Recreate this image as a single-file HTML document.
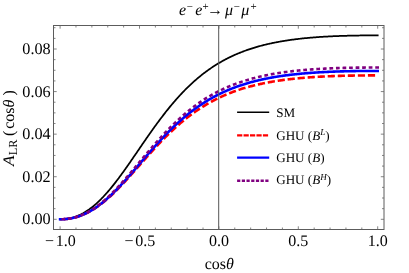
<!DOCTYPE html><html><head><meta charset="utf-8"><style>
html,body{margin:0;padding:0;background:#fff;}
svg{display:block;font-family:"Liberation Serif",serif;} text{filter:grayscale(1);text-rendering:geometricPrecision}
</style></head><body>
<svg width="409" height="273" viewBox="0 0 409 273">
<rect width="409" height="273" fill="#fff"/>
<g fill="none" stroke-linecap="butt" stroke-linejoin="round">
<path d="M377.70,35.38 L376.91,35.38 L376.11,35.38 L375.32,35.38 L374.52,35.38 L373.73,35.38 L372.94,35.38 L372.14,35.39 L371.35,35.39 L370.55,35.39 L369.76,35.40 L368.97,35.40 L368.17,35.41 L367.38,35.41 L366.58,35.42 L365.79,35.43 L365.00,35.43 L364.20,35.44 L363.41,35.45 L362.61,35.46 L361.82,35.47 L361.03,35.48 L360.23,35.49 L359.44,35.50 L358.64,35.51 L357.85,35.52 L357.06,35.53 L356.26,35.55 L355.47,35.56 L354.67,35.58 L353.88,35.59 L353.09,35.61 L352.29,35.62 L351.50,35.64 L350.70,35.66 L349.91,35.68 L349.12,35.69 L348.32,35.71 L347.53,35.74 L346.73,35.76 L345.94,35.78 L345.15,35.80 L344.35,35.82 L343.56,35.85 L342.76,35.87 L341.97,35.90 L341.18,35.93 L340.38,35.95 L339.59,35.98 L338.79,36.01 L338.00,36.04 L337.21,36.07 L336.41,36.10 L335.62,36.13 L334.82,36.17 L334.03,36.20 L333.24,36.24 L332.44,36.27 L331.65,36.31 L330.85,36.35 L330.06,36.39 L329.27,36.43 L328.47,36.47 L327.68,36.51 L326.88,36.55 L326.09,36.60 L325.30,36.64 L324.50,36.69 L323.71,36.74 L322.91,36.78 L322.12,36.83 L321.33,36.88 L320.53,36.94 L319.74,36.99 L318.94,37.04 L318.15,37.10 L317.36,37.15 L316.56,37.21 L315.77,37.27 L314.97,37.33 L314.18,37.39 L313.39,37.46 L312.59,37.52 L311.80,37.59 L311.00,37.65 L310.21,37.72 L309.42,37.79 L308.62,37.86 L307.83,37.94 L307.03,38.01 L306.24,38.09 L305.45,38.16 L304.65,38.24 L303.86,38.32 L303.06,38.41 L302.27,38.49 L301.48,38.57 L300.68,38.66 L299.89,38.75 L299.09,38.84 L298.30,38.93 L297.51,39.03 L296.71,39.12 L295.92,39.22 L295.12,39.32 L294.33,39.42 L293.54,39.52 L292.74,39.63 L291.95,39.74 L291.15,39.85 L290.36,39.96 L289.57,40.07 L288.77,40.18 L287.98,40.30 L287.18,40.42 L286.39,40.54 L285.60,40.67 L284.80,40.79 L284.01,40.92 L283.21,41.05 L282.42,41.18 L281.63,41.32 L280.83,41.46 L280.04,41.60 L279.24,41.74 L278.45,41.88 L277.66,42.03 L276.86,42.18 L276.07,42.33 L275.27,42.49 L274.48,42.65 L273.69,42.81 L272.89,42.97 L272.10,43.13 L271.30,43.30 L270.51,43.48 L269.72,43.65 L268.92,43.83 L268.13,44.01 L267.33,44.19 L266.54,44.38 L265.75,44.57 L264.95,44.76 L264.16,44.96 L263.36,45.16 L262.57,45.36 L261.78,45.56 L260.98,45.77 L260.19,45.99 L259.39,46.20 L258.60,46.42 L257.81,46.65 L257.01,46.87 L256.22,47.10 L255.42,47.34 L254.63,47.58 L253.84,47.82 L253.04,48.06 L252.25,48.31 L251.45,48.57 L250.66,48.82 L249.87,49.09 L249.07,49.35 L248.28,49.62 L247.48,49.90 L246.69,50.18 L245.90,50.46 L245.10,50.75 L244.31,51.04 L243.51,51.33 L242.72,51.63 L241.93,51.94 L241.13,52.25 L240.34,52.57 L239.54,52.89 L238.75,53.21 L237.96,53.54 L237.16,53.87 L236.37,54.21 L235.57,54.56 L234.78,54.91 L233.99,55.26 L233.19,55.63 L232.40,55.99 L231.60,56.36 L230.81,56.74 L230.02,57.12 L229.22,57.51 L228.43,57.90 L227.63,58.30 L226.84,58.71 L226.05,59.12 L225.25,59.54 L224.46,59.96 L223.66,60.39 L222.87,60.83 L222.08,61.27 L221.28,61.72 L220.49,62.17 L219.69,62.63 L218.90,63.10 L218.11,63.58 L217.31,64.06 L216.52,64.54 L215.72,65.04 L214.93,65.54 L214.14,66.05 L213.34,66.56 L212.55,67.08 L211.75,67.61 L210.96,68.15 L210.17,68.69 L209.37,69.25 L208.58,69.80 L207.78,70.37 L206.99,70.94 L206.20,71.52 L205.40,72.11 L204.61,72.71 L203.81,73.31 L203.02,73.92 L202.23,74.54 L201.43,75.17 L200.64,75.81 L199.84,76.45 L199.05,77.10 L198.26,77.76 L197.46,78.43 L196.67,79.10 L195.87,79.79 L195.08,80.48 L194.29,81.18 L193.49,81.89 L192.70,82.61 L191.90,83.33 L191.11,84.07 L190.32,84.81 L189.52,85.56 L188.73,86.32 L187.93,87.09 L187.14,87.87 L186.35,88.65 L185.55,89.45 L184.76,90.25 L183.96,91.06 L183.17,91.88 L182.38,92.71 L181.58,93.55 L180.79,94.40 L179.99,95.25 L179.20,96.11 L178.41,96.99 L177.61,97.87 L176.82,98.76 L176.02,99.65 L175.23,100.56 L174.44,101.47 L173.64,102.40 L172.85,103.33 L172.05,104.27 L171.26,105.22 L170.47,106.17 L169.67,107.14 L168.88,108.11 L168.08,109.09 L167.29,110.08 L166.50,111.07 L165.70,112.08 L164.91,113.09 L164.11,114.11 L163.32,115.13 L162.53,116.17 L161.73,117.21 L160.94,118.25 L160.14,119.31 L159.35,120.37 L158.56,121.44 L157.76,122.51 L156.97,123.59 L156.17,124.67 L155.38,125.77 L154.59,126.86 L153.79,127.97 L153.00,129.07 L152.20,130.19 L151.41,131.31 L150.62,132.43 L149.82,133.55 L149.03,134.69 L148.23,135.82 L147.44,136.96 L146.65,138.10 L145.85,139.25 L145.06,140.40 L144.26,141.55 L143.47,142.70 L142.68,143.85 L141.88,145.01 L141.09,146.17 L140.29,147.33 L139.50,148.49 L138.71,149.65 L137.91,150.82 L137.12,151.98 L136.32,153.14 L135.53,154.30 L134.74,155.46 L133.94,156.62 L133.15,157.77 L132.35,158.93 L131.56,160.08 L130.77,161.23 L129.97,162.38 L129.18,163.52 L128.38,164.66 L127.59,165.80 L126.80,166.93 L126.00,168.06 L125.21,169.18 L124.41,170.29 L123.62,171.40 L122.83,172.51 L122.03,173.60 L121.24,174.69 L120.44,175.78 L119.65,176.85 L118.86,177.92 L118.06,178.98 L117.27,180.03 L116.47,181.07 L115.68,182.10 L114.89,183.13 L114.09,184.14 L113.30,185.14 L112.50,186.14 L111.71,187.12 L110.92,188.09 L110.12,189.04 L109.33,189.99 L108.53,190.93 L107.74,191.85 L106.95,192.76 L106.15,193.65 L105.36,194.54 L104.56,195.41 L103.77,196.26 L102.98,197.11 L102.18,197.93 L101.39,198.75 L100.59,199.55 L99.80,200.33 L99.01,201.10 L98.21,201.86 L97.42,202.60 L96.62,203.32 L95.83,204.03 L95.04,204.73 L94.24,205.40 L93.45,206.06 L92.65,206.71 L91.86,207.34 L91.07,207.95 L90.27,208.55 L89.48,209.13 L88.68,209.69 L87.89,210.24 L87.10,210.77 L86.30,211.29 L85.51,211.79 L84.71,212.27 L83.92,212.73 L83.13,213.18 L82.33,213.61 L81.54,214.03 L80.74,214.42 L79.95,214.81 L79.16,215.17 L78.36,215.52 L77.57,215.86 L76.77,216.17 L75.98,216.47 L75.19,216.76 L74.39,217.03 L73.60,217.28 L72.80,217.52 L72.01,217.74 L71.22,217.95 L70.42,218.14 L69.63,218.31 L68.83,218.48 L68.04,218.62 L67.25,218.75 L66.45,218.87 L65.66,218.97 L64.86,219.06 L64.07,219.13 L63.28,219.19 L62.48,219.24 L61.69,219.27 L60.89,219.29 L60.10,219.30" stroke="#000" stroke-width="1.75" stroke-linecap="square"/>
<path d="M377.70,75.40 L376.91,75.40 L376.11,75.40 L375.32,75.40 L374.52,75.40 L373.73,75.40 L372.94,75.40 L372.14,75.40 L371.35,75.41 L370.55,75.41 L369.76,75.41 L368.97,75.42 L368.17,75.42 L367.38,75.43 L366.58,75.43 L365.79,75.44 L365.00,75.44 L364.20,75.45 L363.41,75.46 L362.61,75.46 L361.82,75.47 L361.03,75.48 L360.23,75.49 L359.44,75.50 L358.64,75.50 L357.85,75.51 L357.06,75.53 L356.26,75.54 L355.47,75.55 L354.67,75.56 L353.88,75.57 L353.09,75.58 L352.29,75.60 L351.50,75.61 L350.70,75.63 L349.91,75.64 L349.12,75.66 L348.32,75.67 L347.53,75.69 L346.73,75.71 L345.94,75.72 L345.15,75.74 L344.35,75.76 L343.56,75.78 L342.76,75.80 L341.97,75.82 L341.18,75.84 L340.38,75.87 L339.59,75.89 L338.79,75.91 L338.00,75.94 L337.21,75.96 L336.41,75.99 L335.62,76.01 L334.82,76.04 L334.03,76.07 L333.24,76.10 L332.44,76.13 L331.65,76.16 L330.85,76.19 L330.06,76.22 L329.27,76.25 L328.47,76.29 L327.68,76.32 L326.88,76.36 L326.09,76.39 L325.30,76.43 L324.50,76.47 L323.71,76.50 L322.91,76.54 L322.12,76.58 L321.33,76.63 L320.53,76.67 L319.74,76.71 L318.94,76.76 L318.15,76.80 L317.36,76.85 L316.56,76.89 L315.77,76.94 L314.97,76.99 L314.18,77.04 L313.39,77.09 L312.59,77.15 L311.80,77.20 L311.00,77.25 L310.21,77.31 L309.42,77.37 L308.62,77.42 L307.83,77.48 L307.03,77.54 L306.24,77.61 L305.45,77.67 L304.65,77.73 L303.86,77.80 L303.06,77.87 L302.27,77.93 L301.48,78.00 L300.68,78.07 L299.89,78.15 L299.09,78.22 L298.30,78.29 L297.51,78.37 L296.71,78.45 L295.92,78.53 L295.12,78.61 L294.33,78.69 L293.54,78.78 L292.74,78.86 L291.95,78.95 L291.15,79.04 L290.36,79.13 L289.57,79.22 L288.77,79.31 L287.98,79.41 L287.18,79.51 L286.39,79.60 L285.60,79.70 L284.80,79.81 L284.01,79.91 L283.21,80.02 L282.42,80.13 L281.63,80.24 L280.83,80.35 L280.04,80.46 L279.24,80.58 L278.45,80.69 L277.66,80.81 L276.86,80.94 L276.07,81.06 L275.27,81.19 L274.48,81.31 L273.69,81.44 L272.89,81.58 L272.10,81.71 L271.30,81.85 L270.51,81.99 L269.72,82.13 L268.92,82.28 L268.13,82.42 L267.33,82.57 L266.54,82.72 L265.75,82.88 L264.95,83.03 L264.16,83.19 L263.36,83.35 L262.57,83.52 L261.78,83.69 L260.98,83.86 L260.19,84.03 L259.39,84.20 L258.60,84.38 L257.81,84.56 L257.01,84.75 L256.22,84.93 L255.42,85.12 L254.63,85.32 L253.84,85.51 L253.04,85.71 L252.25,85.92 L251.45,86.12 L250.66,86.33 L249.87,86.54 L249.07,86.76 L248.28,86.98 L247.48,87.20 L246.69,87.42 L245.90,87.65 L245.10,87.89 L244.31,88.12 L243.51,88.36 L242.72,88.61 L241.93,88.85 L241.13,89.10 L240.34,89.36 L239.54,89.62 L238.75,89.88 L237.96,90.15 L237.16,90.42 L236.37,90.69 L235.57,90.97 L234.78,91.25 L233.99,91.54 L233.19,91.83 L232.40,92.13 L231.60,92.43 L230.81,92.73 L230.02,93.04 L229.22,93.36 L228.43,93.67 L227.63,94.00 L226.84,94.32 L226.05,94.65 L225.25,94.99 L224.46,95.33 L223.66,95.68 L222.87,96.03 L222.08,96.39 L221.28,96.75 L220.49,97.11 L219.69,97.49 L218.90,97.86 L218.11,98.24 L217.31,98.63 L216.52,99.02 L215.72,99.42 L214.93,99.82 L214.14,100.23 L213.34,100.65 L212.55,101.07 L211.75,101.49 L210.96,101.92 L210.17,102.36 L209.37,102.80 L208.58,103.25 L207.78,103.70 L206.99,104.16 L206.20,104.63 L205.40,105.10 L204.61,105.58 L203.81,106.06 L203.02,106.55 L202.23,107.05 L201.43,107.55 L200.64,108.06 L199.84,108.58 L199.05,109.10 L198.26,109.63 L197.46,110.16 L196.67,110.70 L195.87,111.25 L195.08,111.80 L194.29,112.36 L193.49,112.93 L192.70,113.50 L191.90,114.08 L191.11,114.66 L190.32,115.26 L189.52,115.85 L188.73,116.46 L187.93,117.07 L187.14,117.69 L186.35,118.32 L185.55,118.95 L184.76,119.59 L183.96,120.23 L183.17,120.89 L182.38,121.54 L181.58,122.21 L180.79,122.88 L179.99,123.56 L179.20,124.24 L178.41,124.94 L177.61,125.63 L176.82,126.34 L176.02,127.05 L175.23,127.77 L174.44,128.49 L173.64,129.22 L172.85,129.96 L172.05,130.70 L171.26,131.45 L170.47,132.21 L169.67,132.97 L168.88,133.73 L168.08,134.51 L167.29,135.29 L166.50,136.07 L165.70,136.86 L164.91,137.66 L164.11,138.46 L163.32,139.27 L162.53,140.08 L161.73,140.90 L160.94,141.72 L160.14,142.55 L159.35,143.38 L158.56,144.21 L157.76,145.06 L156.97,145.90 L156.17,146.75 L155.38,147.61 L154.59,148.47 L153.79,149.33 L153.00,150.19 L152.20,151.06 L151.41,151.94 L150.62,152.81 L149.82,153.69 L149.03,154.57 L148.23,155.46 L147.44,156.35 L146.65,157.23 L145.85,158.13 L145.06,159.02 L144.26,159.91 L143.47,160.81 L142.68,161.71 L141.88,162.60 L141.09,163.50 L140.29,164.40 L139.50,165.30 L138.71,166.20 L137.91,167.10 L137.12,168.00 L136.32,168.90 L135.53,169.80 L134.74,170.69 L133.94,171.59 L133.15,172.48 L132.35,173.37 L131.56,174.26 L130.77,175.14 L129.97,176.03 L129.18,176.91 L128.38,177.78 L127.59,178.66 L126.80,179.53 L126.00,180.39 L125.21,181.25 L124.41,182.11 L123.62,182.96 L122.83,183.81 L122.03,184.65 L121.24,185.48 L120.44,186.31 L119.65,187.13 L118.86,187.95 L118.06,188.76 L117.27,189.56 L116.47,190.36 L115.68,191.15 L114.89,191.93 L114.09,192.70 L113.30,193.46 L112.50,194.22 L111.71,194.97 L110.92,195.71 L110.12,196.43 L109.33,197.15 L108.53,197.87 L107.74,198.57 L106.95,199.26 L106.15,199.94 L105.36,200.61 L104.56,201.27 L103.77,201.92 L102.98,202.56 L102.18,203.19 L101.39,203.80 L100.59,204.41 L99.80,205.00 L99.01,205.59 L98.21,206.16 L97.42,206.72 L96.62,207.26 L95.83,207.80 L95.04,208.32 L94.24,208.84 L93.45,209.34 L92.65,209.82 L91.86,210.30 L91.07,210.76 L90.27,211.21 L89.48,211.65 L88.68,212.07 L87.89,212.49 L87.10,212.89 L86.30,213.27 L85.51,213.65 L84.71,214.01 L83.92,214.36 L83.13,214.70 L82.33,215.02 L81.54,215.34 L80.74,215.64 L79.95,215.92 L79.16,216.20 L78.36,216.46 L77.57,216.71 L76.77,216.95 L75.98,217.18 L75.19,217.39 L74.39,217.59 L73.60,217.78 L72.80,217.96 L72.01,218.13 L71.22,218.28 L70.42,218.43 L69.63,218.56 L68.83,218.68 L68.04,218.79 L67.25,218.89 L66.45,218.98 L65.66,219.05 L64.86,219.12 L64.07,219.18 L63.28,219.22 L62.48,219.26 L61.69,219.28 L60.89,219.30 L60.10,219.30" stroke="#f00" stroke-width="2.6" stroke-dasharray="7.2,2.85" stroke-dashoffset="7.45"/>
<path d="M377.70,70.93 L376.91,70.93 L376.11,70.93 L375.32,70.93 L374.52,70.93 L373.73,70.93 L372.94,70.93 L372.14,70.93 L371.35,70.94 L370.55,70.94 L369.76,70.94 L368.97,70.95 L368.17,70.95 L367.38,70.96 L366.58,70.96 L365.79,70.97 L365.00,70.97 L364.20,70.98 L363.41,70.99 L362.61,71.00 L361.82,71.00 L361.03,71.01 L360.23,71.02 L359.44,71.03 L358.64,71.04 L357.85,71.05 L357.06,71.06 L356.26,71.07 L355.47,71.08 L354.67,71.10 L353.88,71.11 L353.09,71.12 L352.29,71.14 L351.50,71.15 L350.70,71.17 L349.91,71.18 L349.12,71.20 L348.32,71.21 L347.53,71.23 L346.73,71.25 L345.94,71.27 L345.15,71.29 L344.35,71.31 L343.56,71.33 L342.76,71.35 L341.97,71.37 L341.18,71.39 L340.38,71.42 L339.59,71.44 L338.79,71.46 L338.00,71.49 L337.21,71.52 L336.41,71.54 L335.62,71.57 L334.82,71.60 L334.03,71.63 L333.24,71.66 L332.44,71.69 L331.65,71.72 L330.85,71.75 L330.06,71.79 L329.27,71.82 L328.47,71.85 L327.68,71.89 L326.88,71.93 L326.09,71.96 L325.30,72.00 L324.50,72.04 L323.71,72.08 L322.91,72.12 L322.12,72.16 L321.33,72.21 L320.53,72.25 L319.74,72.30 L318.94,72.34 L318.15,72.39 L317.36,72.44 L316.56,72.49 L315.77,72.54 L314.97,72.59 L314.18,72.64 L313.39,72.69 L312.59,72.75 L311.80,72.80 L311.00,72.86 L310.21,72.92 L309.42,72.98 L308.62,73.04 L307.83,73.10 L307.03,73.16 L306.24,73.23 L305.45,73.29 L304.65,73.36 L303.86,73.43 L303.06,73.50 L302.27,73.57 L301.48,73.64 L300.68,73.72 L299.89,73.79 L299.09,73.87 L298.30,73.95 L297.51,74.03 L296.71,74.11 L295.92,74.19 L295.12,74.27 L294.33,74.36 L293.54,74.45 L292.74,74.54 L291.95,74.63 L291.15,74.72 L290.36,74.81 L289.57,74.91 L288.77,75.01 L287.98,75.11 L287.18,75.21 L286.39,75.31 L285.60,75.41 L284.80,75.52 L284.01,75.63 L283.21,75.74 L282.42,75.85 L281.63,75.97 L280.83,76.08 L280.04,76.20 L279.24,76.32 L278.45,76.45 L277.66,76.57 L276.86,76.70 L276.07,76.83 L275.27,76.96 L274.48,77.09 L273.69,77.23 L272.89,77.36 L272.10,77.51 L271.30,77.65 L270.51,77.79 L269.72,77.94 L268.92,78.09 L268.13,78.24 L267.33,78.40 L266.54,78.56 L265.75,78.72 L264.95,78.88 L264.16,79.05 L263.36,79.21 L262.57,79.39 L261.78,79.56 L260.98,79.74 L260.19,79.92 L259.39,80.10 L258.60,80.28 L257.81,80.47 L257.01,80.66 L256.22,80.86 L255.42,81.06 L254.63,81.26 L253.84,81.46 L253.04,81.67 L252.25,81.88 L251.45,82.09 L250.66,82.31 L249.87,82.53 L249.07,82.76 L248.28,82.98 L247.48,83.22 L246.69,83.45 L245.90,83.69 L245.10,83.93 L244.31,84.18 L243.51,84.43 L242.72,84.68 L241.93,84.94 L241.13,85.20 L240.34,85.46 L239.54,85.73 L238.75,86.00 L237.96,86.28 L237.16,86.56 L236.37,86.85 L235.57,87.14 L234.78,87.43 L233.99,87.73 L233.19,88.03 L232.40,88.34 L231.60,88.65 L230.81,88.97 L230.02,89.29 L229.22,89.62 L228.43,89.95 L227.63,90.28 L226.84,90.62 L226.05,90.97 L225.25,91.32 L224.46,91.67 L223.66,92.03 L222.87,92.40 L222.08,92.77 L221.28,93.14 L220.49,93.52 L219.69,93.91 L218.90,94.30 L218.11,94.70 L217.31,95.10 L216.52,95.51 L215.72,95.92 L214.93,96.34 L214.14,96.76 L213.34,97.19 L212.55,97.63 L211.75,98.07 L210.96,98.52 L210.17,98.97 L209.37,99.43 L208.58,99.90 L207.78,100.37 L206.99,100.84 L206.20,101.33 L205.40,101.82 L204.61,102.31 L203.81,102.82 L203.02,103.32 L202.23,103.84 L201.43,104.36 L200.64,104.89 L199.84,105.42 L199.05,105.96 L198.26,106.51 L197.46,107.06 L196.67,107.62 L195.87,108.19 L195.08,108.76 L194.29,109.34 L193.49,109.93 L192.70,110.52 L191.90,111.12 L191.11,111.73 L190.32,112.34 L189.52,112.96 L188.73,113.59 L187.93,114.23 L187.14,114.87 L186.35,115.51 L185.55,116.17 L184.76,116.83 L183.96,117.50 L183.17,118.17 L182.38,118.86 L181.58,119.54 L180.79,120.24 L179.99,120.94 L179.20,121.65 L178.41,122.37 L177.61,123.09 L176.82,123.82 L176.02,124.55 L175.23,125.29 L174.44,126.04 L173.64,126.80 L172.85,127.56 L172.05,128.33 L171.26,129.10 L170.47,129.88 L169.67,130.67 L168.88,131.46 L168.08,132.26 L167.29,133.06 L166.50,133.87 L165.70,134.69 L164.91,135.51 L164.11,136.34 L163.32,137.17 L162.53,138.01 L161.73,138.86 L160.94,139.70 L160.14,140.56 L159.35,141.42 L158.56,142.28 L157.76,143.15 L156.97,144.02 L156.17,144.90 L155.38,145.78 L154.59,146.66 L153.79,147.55 L153.00,148.45 L152.20,149.34 L151.41,150.24 L150.62,151.14 L149.82,152.05 L149.03,152.96 L148.23,153.87 L147.44,154.78 L146.65,155.70 L145.85,156.61 L145.06,157.53 L144.26,158.45 L143.47,159.38 L142.68,160.30 L141.88,161.22 L141.09,162.15 L140.29,163.07 L139.50,164.00 L138.71,164.92 L137.91,165.85 L137.12,166.77 L136.32,167.70 L135.53,168.62 L134.74,169.54 L133.94,170.46 L133.15,171.37 L132.35,172.29 L131.56,173.20 L130.77,174.11 L129.97,175.02 L129.18,175.92 L128.38,176.82 L127.59,177.72 L126.80,178.61 L126.00,179.50 L125.21,180.38 L124.41,181.26 L123.62,182.13 L122.83,183.00 L122.03,183.86 L121.24,184.72 L120.44,185.57 L119.65,186.41 L118.86,187.25 L118.06,188.08 L117.27,188.90 L116.47,189.72 L115.68,190.52 L114.89,191.32 L114.09,192.11 L113.30,192.90 L112.50,193.67 L111.71,194.43 L110.92,195.19 L110.12,195.94 L109.33,196.67 L108.53,197.40 L107.74,198.12 L106.95,198.83 L106.15,199.52 L105.36,200.21 L104.56,200.88 L103.77,201.55 L102.98,202.20 L102.18,202.84 L101.39,203.47 L100.59,204.09 L99.80,204.70 L99.01,205.30 L98.21,205.88 L97.42,206.45 L96.62,207.01 L95.83,207.56 L95.04,208.09 L94.24,208.62 L93.45,209.13 L92.65,209.63 L91.86,210.11 L91.07,210.58 L90.27,211.04 L89.48,211.49 L88.68,211.92 L87.89,212.35 L87.10,212.75 L86.30,213.15 L85.51,213.53 L84.71,213.90 L83.92,214.26 L83.13,214.61 L82.33,214.94 L81.54,215.26 L80.74,215.56 L79.95,215.86 L79.16,216.14 L78.36,216.40 L77.57,216.66 L76.77,216.90 L75.98,217.13 L75.19,217.35 L74.39,217.56 L73.60,217.75 L72.80,217.94 L72.01,218.11 L71.22,218.26 L70.42,218.41 L69.63,218.54 L68.83,218.67 L68.04,218.78 L67.25,218.88 L66.45,218.97 L65.66,219.05 L64.86,219.12 L64.07,219.17 L63.28,219.22 L62.48,219.25 L61.69,219.28 L60.89,219.30 L60.10,219.30" stroke="#00f" stroke-width="2.6" stroke-linecap="square"/>
<path d="M379.00,67.52 L377.70,67.52 L376.91,67.52 L376.11,67.52 L375.32,67.52 L374.52,67.52 L373.73,67.52 L372.94,67.53 L372.14,67.53 L371.35,67.53 L370.55,67.53 L369.76,67.54 L368.97,67.54 L368.17,67.55 L367.38,67.55 L366.58,67.56 L365.79,67.56 L365.00,67.57 L364.20,67.58 L363.41,67.58 L362.61,67.59 L361.82,67.60 L361.03,67.61 L360.23,67.61 L359.44,67.62 L358.64,67.63 L357.85,67.64 L357.06,67.65 L356.26,67.67 L355.47,67.68 L354.67,67.69 L353.88,67.70 L353.09,67.72 L352.29,67.73 L351.50,67.75 L350.70,67.76 L349.91,67.78 L349.12,67.79 L348.32,67.81 L347.53,67.83 L346.73,67.85 L345.94,67.86 L345.15,67.88 L344.35,67.90 L343.56,67.92 L342.76,67.95 L341.97,67.97 L341.18,67.99 L340.38,68.01 L339.59,68.04 L338.79,68.06 L338.00,68.09 L337.21,68.11 L336.41,68.14 L335.62,68.17 L334.82,68.20 L334.03,68.23 L333.24,68.26 L332.44,68.29 L331.65,68.32 L330.85,68.35 L330.06,68.38 L329.27,68.42 L328.47,68.45 L327.68,68.49 L326.88,68.53 L326.09,68.56 L325.30,68.60 L324.50,68.64 L323.71,68.68 L322.91,68.72 L322.12,68.77 L321.33,68.81 L320.53,68.85 L319.74,68.90 L318.94,68.95 L318.15,68.99 L317.36,69.04 L316.56,69.09 L315.77,69.14 L314.97,69.19 L314.18,69.25 L313.39,69.30 L312.59,69.35 L311.80,69.41 L311.00,69.47 L310.21,69.53 L309.42,69.59 L308.62,69.65 L307.83,69.71 L307.03,69.77 L306.24,69.84 L305.45,69.90 L304.65,69.97 L303.86,70.04 L303.06,70.11 L302.27,70.18 L301.48,70.25 L300.68,70.33 L299.89,70.41 L299.09,70.48 L298.30,70.56 L297.51,70.64 L296.71,70.72 L295.92,70.81 L295.12,70.89 L294.33,70.98 L293.54,71.07 L292.74,71.16 L291.95,71.25 L291.15,71.34 L290.36,71.43 L289.57,71.53 L288.77,71.63 L287.98,71.73 L287.18,71.83 L286.39,71.93 L285.60,72.04 L284.80,72.15 L284.01,72.26 L283.21,72.37 L282.42,72.48 L281.63,72.60 L280.83,72.71 L280.04,72.83 L279.24,72.96 L278.45,73.08 L277.66,73.20 L276.86,73.33 L276.07,73.46 L275.27,73.59 L274.48,73.73 L273.69,73.87 L272.89,74.01 L272.10,74.15 L271.30,74.29 L270.51,74.44 L269.72,74.59 L268.92,74.74 L268.13,74.89 L267.33,75.05 L266.54,75.21 L265.75,75.37 L264.95,75.53 L264.16,75.70 L263.36,75.87 L262.57,76.04 L261.78,76.22 L260.98,76.40 L260.19,76.58 L259.39,76.76 L258.60,76.95 L257.81,77.14 L257.01,77.33 L256.22,77.53 L255.42,77.73 L254.63,77.93 L253.84,78.14 L253.04,78.35 L252.25,78.56 L251.45,78.77 L250.66,78.99 L249.87,79.22 L249.07,79.44 L248.28,79.67 L247.48,79.91 L246.69,80.14 L245.90,80.38 L245.10,80.63 L244.31,80.88 L243.51,81.13 L242.72,81.38 L241.93,81.64 L241.13,81.91 L240.34,82.17 L239.54,82.45 L238.75,82.72 L237.96,83.00 L237.16,83.29 L236.37,83.58 L235.57,83.87 L234.78,84.17 L233.99,84.47 L233.19,84.77 L232.40,85.08 L231.60,85.40 L230.81,85.72 L230.02,86.04 L229.22,86.37 L228.43,86.71 L227.63,87.05 L226.84,87.39 L226.05,87.74 L225.25,88.09 L224.46,88.45 L223.66,88.81 L222.87,89.18 L222.08,89.56 L221.28,89.94 L220.49,90.32 L219.69,90.71 L218.90,91.11 L218.11,91.51 L217.31,91.92 L216.52,92.33 L215.72,92.75 L214.93,93.17 L214.14,93.60 L213.34,94.03 L212.55,94.48 L211.75,94.92 L210.96,95.38 L210.17,95.83 L209.37,96.30 L208.58,96.77 L207.78,97.25 L206.99,97.73 L206.20,98.22 L205.40,98.72 L204.61,99.22 L203.81,99.73 L203.02,100.24 L202.23,100.77 L201.43,101.29 L200.64,101.83 L199.84,102.37 L199.05,102.92 L198.26,103.47 L197.46,104.04 L196.67,104.60 L195.87,105.18 L195.08,105.76 L194.29,106.35 L193.49,106.94 L192.70,107.55 L191.90,108.16 L191.11,108.77 L190.32,109.40 L189.52,110.03 L188.73,110.66 L187.93,111.31 L187.14,111.96 L186.35,112.62 L185.55,113.28 L184.76,113.96 L183.96,114.63 L183.17,115.32 L182.38,116.01 L181.58,116.71 L180.79,117.42 L179.99,118.14 L179.20,118.86 L178.41,119.59 L177.61,120.32 L176.82,121.06 L176.02,121.81 L175.23,122.57 L174.44,123.33 L173.64,124.10 L172.85,124.87 L172.05,125.66 L171.26,126.45 L170.47,127.24 L169.67,128.04 L168.88,128.85 L168.08,129.67 L167.29,130.49 L166.50,131.31 L165.70,132.15 L164.91,132.99 L164.11,133.83 L163.32,134.68 L162.53,135.54 L161.73,136.40 L160.94,137.27 L160.14,138.14 L159.35,139.02 L158.56,139.90 L157.76,140.79 L156.97,141.68 L156.17,142.58 L155.38,143.48 L154.59,144.38 L153.79,145.29 L153.00,146.21 L152.20,147.12 L151.41,148.04 L150.62,148.97 L149.82,149.90 L149.03,150.83 L148.23,151.76 L147.44,152.70 L146.65,153.64 L145.85,154.58 L145.06,155.52 L144.26,156.46 L143.47,157.41 L142.68,158.36 L141.88,159.31 L141.09,160.25 L140.29,161.20 L139.50,162.15 L138.71,163.10 L137.91,164.05 L137.12,165.00 L136.32,165.95 L135.53,166.90 L134.74,167.85 L133.94,168.79 L133.15,169.74 L132.35,170.68 L131.56,171.62 L130.77,172.55 L129.97,173.49 L129.18,174.42 L128.38,175.34 L127.59,176.27 L126.80,177.19 L126.00,178.10 L125.21,179.01 L124.41,179.92 L123.62,180.82 L122.83,181.71 L122.03,182.60 L121.24,183.48 L120.44,184.36 L119.65,185.23 L118.86,186.10 L118.06,186.95 L117.27,187.80 L116.47,188.64 L115.68,189.48 L114.89,190.30 L114.09,191.12 L113.30,191.93 L112.50,192.73 L111.71,193.52 L110.92,194.30 L110.12,195.07 L109.33,195.84 L108.53,196.59 L107.74,197.33 L106.95,198.06 L106.15,198.78 L105.36,199.49 L104.56,200.19 L103.77,200.88 L102.98,201.56 L102.18,202.22 L101.39,202.88 L100.59,203.52 L99.80,204.15 L99.01,204.76 L98.21,205.37 L97.42,205.96 L96.62,206.54 L95.83,207.11 L95.04,207.67 L94.24,208.21 L93.45,208.74 L92.65,209.25 L91.86,209.76 L91.07,210.25 L90.27,210.72 L89.48,211.19 L88.68,211.64 L87.89,212.08 L87.10,212.50 L86.30,212.91 L85.51,213.31 L84.71,213.69 L83.92,214.06 L83.13,214.42 L82.33,214.77 L81.54,215.10 L80.74,215.42 L79.95,215.72 L79.16,216.01 L78.36,216.29 L77.57,216.56 L76.77,216.81 L75.98,217.05 L75.19,217.28 L74.39,217.49 L73.60,217.69 L72.80,217.88 L72.01,218.06 L71.22,218.22 L70.42,218.37 L69.63,218.52 L68.83,218.64 L68.04,218.76 L67.25,218.86 L66.45,218.96 L65.66,219.04 L64.86,219.11 L64.07,219.17 L63.28,219.22 L62.48,219.25 L61.69,219.28 L60.89,219.29 L60.10,219.30" stroke="#800080" stroke-width="2.6" stroke-dasharray="3.75,2.8" stroke-dashoffset="0"/>
</g>
<line x1="218.7" y1="25.5" x2="218.7" y2="229.5" stroke="#555" stroke-width="1"/>
<rect x="53.5" y="25.5" width="330.5" height="204.0" fill="none" stroke="#5c5c5c" stroke-width="1"/>
<g stroke="#666" stroke-width="0.8"><line x1="60.10" y1="229.5" x2="60.10" y2="226.3"/><line x1="60.10" y1="25.5" x2="60.10" y2="28.7"/><line x1="75.98" y1="229.5" x2="75.98" y2="227.5"/><line x1="75.98" y1="25.5" x2="75.98" y2="27.5"/><line x1="91.86" y1="229.5" x2="91.86" y2="227.5"/><line x1="91.86" y1="25.5" x2="91.86" y2="27.5"/><line x1="107.74" y1="229.5" x2="107.74" y2="227.5"/><line x1="107.74" y1="25.5" x2="107.74" y2="27.5"/><line x1="123.62" y1="229.5" x2="123.62" y2="227.5"/><line x1="123.62" y1="25.5" x2="123.62" y2="27.5"/><line x1="139.50" y1="229.5" x2="139.50" y2="226.3"/><line x1="139.50" y1="25.5" x2="139.50" y2="28.7"/><line x1="155.38" y1="229.5" x2="155.38" y2="227.5"/><line x1="155.38" y1="25.5" x2="155.38" y2="27.5"/><line x1="171.26" y1="229.5" x2="171.26" y2="227.5"/><line x1="171.26" y1="25.5" x2="171.26" y2="27.5"/><line x1="187.14" y1="229.5" x2="187.14" y2="227.5"/><line x1="187.14" y1="25.5" x2="187.14" y2="27.5"/><line x1="203.02" y1="229.5" x2="203.02" y2="227.5"/><line x1="203.02" y1="25.5" x2="203.02" y2="27.5"/><line x1="218.90" y1="229.5" x2="218.90" y2="226.3"/><line x1="218.90" y1="25.5" x2="218.90" y2="28.7"/><line x1="234.78" y1="229.5" x2="234.78" y2="227.5"/><line x1="234.78" y1="25.5" x2="234.78" y2="27.5"/><line x1="250.66" y1="229.5" x2="250.66" y2="227.5"/><line x1="250.66" y1="25.5" x2="250.66" y2="27.5"/><line x1="266.54" y1="229.5" x2="266.54" y2="227.5"/><line x1="266.54" y1="25.5" x2="266.54" y2="27.5"/><line x1="282.42" y1="229.5" x2="282.42" y2="227.5"/><line x1="282.42" y1="25.5" x2="282.42" y2="27.5"/><line x1="298.30" y1="229.5" x2="298.30" y2="226.3"/><line x1="298.30" y1="25.5" x2="298.30" y2="28.7"/><line x1="314.18" y1="229.5" x2="314.18" y2="227.5"/><line x1="314.18" y1="25.5" x2="314.18" y2="27.5"/><line x1="330.06" y1="229.5" x2="330.06" y2="227.5"/><line x1="330.06" y1="25.5" x2="330.06" y2="27.5"/><line x1="345.94" y1="229.5" x2="345.94" y2="227.5"/><line x1="345.94" y1="25.5" x2="345.94" y2="27.5"/><line x1="361.82" y1="229.5" x2="361.82" y2="227.5"/><line x1="361.82" y1="25.5" x2="361.82" y2="27.5"/><line x1="377.70" y1="229.5" x2="377.70" y2="226.3"/><line x1="377.70" y1="25.5" x2="377.70" y2="28.7"/><line x1="53.5" y1="219.30" x2="56.7" y2="219.30"/><line x1="384.0" y1="219.30" x2="380.8" y2="219.30"/><line x1="53.5" y1="208.66" x2="55.5" y2="208.66"/><line x1="384.0" y1="208.66" x2="382.0" y2="208.66"/><line x1="53.5" y1="198.01" x2="55.5" y2="198.01"/><line x1="384.0" y1="198.01" x2="382.0" y2="198.01"/><line x1="53.5" y1="187.37" x2="55.5" y2="187.37"/><line x1="384.0" y1="187.37" x2="382.0" y2="187.37"/><line x1="53.5" y1="176.73" x2="56.7" y2="176.73"/><line x1="384.0" y1="176.73" x2="380.8" y2="176.73"/><line x1="53.5" y1="166.08" x2="55.5" y2="166.08"/><line x1="384.0" y1="166.08" x2="382.0" y2="166.08"/><line x1="53.5" y1="155.44" x2="55.5" y2="155.44"/><line x1="384.0" y1="155.44" x2="382.0" y2="155.44"/><line x1="53.5" y1="144.79" x2="55.5" y2="144.79"/><line x1="384.0" y1="144.79" x2="382.0" y2="144.79"/><line x1="53.5" y1="134.15" x2="56.7" y2="134.15"/><line x1="384.0" y1="134.15" x2="380.8" y2="134.15"/><line x1="53.5" y1="123.51" x2="55.5" y2="123.51"/><line x1="384.0" y1="123.51" x2="382.0" y2="123.51"/><line x1="53.5" y1="112.86" x2="55.5" y2="112.86"/><line x1="384.0" y1="112.86" x2="382.0" y2="112.86"/><line x1="53.5" y1="102.22" x2="55.5" y2="102.22"/><line x1="384.0" y1="102.22" x2="382.0" y2="102.22"/><line x1="53.5" y1="91.58" x2="56.7" y2="91.58"/><line x1="384.0" y1="91.58" x2="380.8" y2="91.58"/><line x1="53.5" y1="80.93" x2="55.5" y2="80.93"/><line x1="384.0" y1="80.93" x2="382.0" y2="80.93"/><line x1="53.5" y1="70.29" x2="55.5" y2="70.29"/><line x1="384.0" y1="70.29" x2="382.0" y2="70.29"/><line x1="53.5" y1="59.64" x2="55.5" y2="59.64"/><line x1="384.0" y1="59.64" x2="382.0" y2="59.64"/><line x1="53.5" y1="49.00" x2="56.7" y2="49.00"/><line x1="384.0" y1="49.00" x2="380.8" y2="49.00"/><line x1="53.5" y1="38.36" x2="55.5" y2="38.36"/><line x1="384.0" y1="38.36" x2="382.0" y2="38.36"/><line x1="53.5" y1="27.71" x2="55.5" y2="27.71"/><line x1="384.0" y1="27.71" x2="382.0" y2="27.71"/></g>
<g font-size="16" fill="#000"><text x="45.0" y="246.2">−</text><text x="55.8" y="246.2">1.0</text><text x="124.4" y="246.2">−</text><text x="135.2" y="246.2">0.5</text><text x="218.9" y="246.2" text-anchor="middle">0.0</text><text x="298.3" y="246.2" text-anchor="middle">0.5</text><text x="377.7" y="246.2" text-anchor="middle">1.0</text><text x="50.7" y="224.3" font-size="16.2" text-anchor="end">0.00</text><text x="50.7" y="181.7" font-size="16.2" text-anchor="end">0.02</text><text x="50.7" y="139.2" font-size="16.2" text-anchor="end">0.04</text><text x="50.7" y="96.6" font-size="16.2" text-anchor="end">0.06</text><text x="50.7" y="54.0" font-size="16.2" text-anchor="end">0.08</text></g>
<text x="179" y="15" font-size="16" font-style="italic">e<tspan dy="-5" font-size="11">−</tspan><tspan dy="5" dx="1.7">e</tspan><tspan dy="-5" dx="-0.5" font-size="11">+</tspan><tspan dy="5" dx="-2.4" font-style="normal">→ </tspan><tspan dx="-2">μ</tspan><tspan dy="-5" dx="0.1" font-size="11">−</tspan><tspan dy="5" dx="0.7">μ</tspan><tspan dy="-5" dx="0.5" font-size="11">+</tspan></text>
<text x="219.3" y="268.6" font-size="16" text-anchor="middle">cos<tspan font-style="italic">θ</tspan></text>
<g transform="translate(13.5,0) rotate(-90)" font-size="16">
<text x="-166" y="0" font-style="italic" textLength="10.6" lengthAdjust="spacingAndGlyphs">A</text>
<text x="-155.2" y="3.3"><tspan font-size="12.3">LR</tspan><tspan dy="-3.3" dx="-0.4"> (</tspan><tspan dx="-2.2"> cos</tspan><tspan font-style="italic">θ</tspan> )</text>
</g>
<g stroke-width="2.4" fill="none">
<line x1="237.1" y1="112.2" x2="269.2" y2="112.2" stroke="#000" stroke-width="1.5"/>
<line x1="237.1" y1="135.4" x2="269.2" y2="135.4" stroke="#f00" stroke-dasharray="5.2,1.25"/>
<line x1="237.1" y1="157.6" x2="269.2" y2="157.6" stroke="#00f"/>
<line x1="237.1" y1="180.8" x2="269.2" y2="180.8" stroke="#800080" stroke-dasharray="3.2,1.5"/>
</g>
<g font-size="13.1" fill="#000">
<text x="276.2" y="116.8">SM</text>
<text x="276.2" y="139.6">GHU (<tspan font-style="italic">B</tspan><tspan dy="-4.5" font-size="9" font-style="italic">L</tspan><tspan dy="4.5">)</tspan></text>
<text x="276.2" y="161.5">GHU (<tspan font-style="italic">B</tspan>)</text>
<text x="276.2" y="184.4">GHU (<tspan font-style="italic">B</tspan><tspan dy="-4.5" font-size="9" font-style="italic">H</tspan><tspan dy="4.5">)</tspan></text>
</g>
</svg></body></html>
